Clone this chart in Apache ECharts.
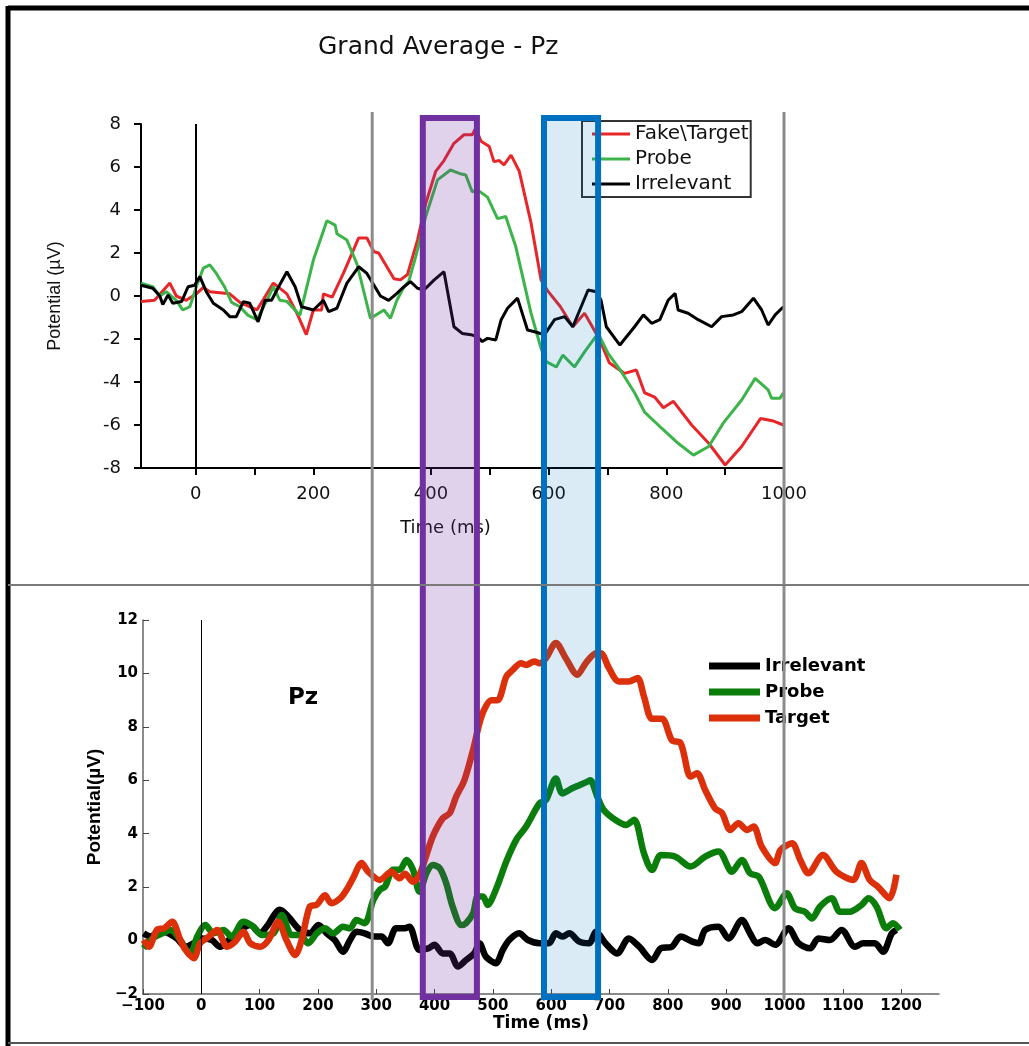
<!DOCTYPE html>
<html>
<head>
<meta charset="utf-8">
<script src="https://cdn.jsdelivr.net/npm/echarts@6/dist/echarts.min.js"></script>
<style>
  body { margin: 0; background: #fff; }
  #chart { width: 1029px; height: 1046px; }
</style>
</head>
<body>
<div id="chart"></div>
<script>
// top panel (Grand Average - Pz), [time ms, potential uV]
const topTarget = [[-93,-0.26],[-70,-0.2],[-44,0.6],[-33,0],[-16,-0.2],[1,0.1],[13,0.4],[24,0.2],[58,0.1],[75,-0.3],[104,-0.65],[132,0.6],[155,0.1],[172,-0.8],[188,-1.8],[200,-0.65],[214,-0.65],[217,0.1],[232,-0.05],[251,1.05],[277,2.7],[291,2.7],[303,2.06],[311,2.0],[337,0.8],[348,0.75],[360,1.0],[377,2.6],[391,4.3],[408,5.8],[422,6.3],[439,7.1],[456,7.5],[470,7.5],[476,7.8],[485,7.2],[499,6.95],[507,6.25],[516,6.3],[524,6.1],[536,6.55],[550,5.8],[570,3.4],[587,0.75],[598,0.25],[620,-0.5],[641,-1.43],[661,-0.8],[687,-2.05],[703,-3.1],[729,-3.6],[749,-3.44],[763,-4.5],[780,-4.7],[795,-5.2],[812,-4.9],[843,-6.0],[872,-6.85],[900,-7.86],[928,-7.0],[960,-5.7],[980,-5.8],[999,-6.0]];
const topProbe = [[-93,0.6],[-73,0.43],[-61,0],[-50,0.2],[-33,-0.2],[-22,-0.65],[-10,-0.5],[1,0.43],[13,1.3],[24,1.45],[35,1.05],[49,0.43],[61,-0.3],[75,-0.5],[89,-0.9],[104,-1.1],[121,-0.2],[132,0.43],[143,-0.2],[155,-0.25],[177,-0.9],[200,1.67],[223,3.5],[237,3.3],[240,2.9],[257,2.6],[274,1.5],[297,-1.04],[320,-0.65],[331,-1.04],[342,-0.2],[354,0.43],[362,0.67],[374,1.83],[391,3.7],[411,5.4],[433,5.86],[448,5.7],[459,5.63],[470,4.85],[479,4.93],[496,4.6],[513,3.6],[527,3.7],[544,2.3],[570,-0.8],[587,-2.43],[596,-3.05],[613,-3.3],[624,-2.75],[644,-3.3],[661,-2.6],[684,-1.74],[701,-2.67],[723,-3.5],[746,-4.5],[763,-5.4],[792,-6.15],[820,-6.85],[846,-7.4],[872,-7.0],[897,-5.9],[928,-4.84],[951,-3.83],[973,-4.37],[979,-4.76],[993,-4.76],[999,-4.5]];
const topIrrelevant = [[-93,0.5],[-73,0.36],[-61,0],[-56,-0.4],[-47,0.05],[-39,-0.34],[-24,-0.26],[-13,0.43],[-2,0.5],[7,0.9],[18,0.2],[30,-0.34],[47,-0.65],[58,-0.96],[69,-0.96],[81,-0.26],[92,-0.34],[106,-1.2],[118,-0.2],[129,-0.2],[138,0.28],[155,1.13],[169,0.43],[180,-0.5],[200,-0.65],[217,-0.2],[226,-0.73],[240,-0.57],[257,0.6],[277,1.36],[291,1.05],[314,0],[328,-0.2],[342,0.12],[351,0.36],[365,0.67],[377,0.36],[388,0.28],[405,0.74],[422,1.13],[439,-1.43],[453,-1.74],[468,-1.8],[479,-1.9],[487,-2.12],[496,-1.97],[510,-2.05],[519,-1.12],[530,-0.57],[547,-0.1],[564,-1.58],[576,-1.66],[593,-1.8],[610,-1.1],[627,-0.96],[641,-1.43],[667,0.28],[681,0.2],[689,-0.2],[698,-1.43],[721,-2.28],[746,-1.43],[761,-0.88],[775,-1.27],[789,-1.1],[803,-0.2],[815,0.12],[820,-0.65],[837,-0.8],[854,-1.1],[877,-1.43],[894,-0.96],[914,-0.88],[928,-0.73],[948,-0.1],[962,-0.65],[973,-1.35],[985,-0.88],[999,-0.5]];

// bottom panel (Pz), [time ms, potential uV]
const botTarget = [[-99,0.02],[-90,-0.23],[-76,0.4],[-64,0.46],[-50,0.7],[-36,0.02],[-27,-0.35],[-13,-0.66],[-2,-0.1],[13,0.15],[27,0.4],[44,-0.23],[58,-0.04],[72,0.33],[84,-0.1],[101,-0.23],[115,0.02],[132,0.7],[146,0.02],[161,-0.54],[172,0.02],[186,1.27],[198,1.34],[212,1.7],[223,1.4],[238,1.58],[249,1.9],[260,2.33],[275,2.9],[286,2.58],[306,2.27],[326,2.58],[340,2.33],[349,2.5],[363,2.2],[374,2.46],[383,3.0],[397,3.9],[414,4.58],[426,4.77],[437,5.39],[451,6.0],[466,7.14],[477,8.14],[485,8.64],[497,9.0],[508,9.0],[523,9.88],[534,10.13],[548,10.38],[557,10.32],[571,10.45],[580,10.38],[591,10.57],[608,11.14],[625,10.57],[645,9.95],[659,10.38],[677,10.76],[685,10.76],[699,10.2],[716,9.7],[733,9.7],[748,9.83],[759,9.14],[773,8.3],[790,8.3],[807,7.5],[822,7.39],[839,6.14],[850,6.26],[864,5.64],[881,4.95],[893,4.77],[907,4.14],[921,4.39],[936,4.14],[947,4.27],[961,3.52],[984,2.9],[993,3.39],[1013,3.64],[1027,3.02],[1041,2.52],[1066,3.2],[1089,2.58],[1118,2.27],[1132,2.9],[1146,2.27],[1160,2.02],[1180,1.58],[1192,2.46]];
const botProbe = [[-99,-0.29],[-84,0.08],[-67,0.27],[-53,0.4],[-36,0.02],[-19,-0.54],[-7,0.15],[7,0.58],[21,0.27],[38,0.4],[52,0.15],[72,0.7],[89,0.52],[104,0.21],[124,0.27],[138,0.96],[155,0.21],[169,0.21],[183,-0.1],[198,0.27],[212,0.46],[226,0.27],[243,0.52],[255,0.46],[266,0.77],[280,0.65],[295,1.52],[306,1.9],[315,2.02],[329,2.65],[340,2.65],[352,3.02],[363,2.65],[374,1.83],[386,2.52],[397,2.83],[409,2.7],[420,2.14],[431,1.27],[446,0.58],[454,0.65],[466,1.02],[474,1.65],[483,1.65],[491,1.33],[505,1.9],[523,2.96],[540,3.77],[557,4.27],[580,5.14],[591,5.26],[608,6.07],[619,5.51],[636,5.7],[662,5.95],[667,6.0],[679,5.39],[690,4.89],[710,4.52],[728,4.33],[742,4.52],[759,3.27],[773,2.64],[788,3.2],[813,3.14],[839,2.77],[864,3.14],[887,3.33],[910,2.58],[927,3.02],[941,2.52],[956,2.39],[984,1.21],[1004,1.77],[1018,1.21],[1035,1.08],[1047,0.83],[1061,1.27],[1081,1.58],[1095,1.08],[1112,1.08],[1132,1.33],[1144,1.58],[1158,1.27],[1175,0.46],[1186,0.65],[1198,0.4]];
const botIrrelevant = [[-99,0.27],[-87,0.15],[-70,0.4],[-56,0.27],[-42,0.08],[-27,-0.23],[-13,-0.1],[1,0.08],[18,0.02],[32,-0.23],[50,0.08],[67,0.4],[84,0.58],[101,0.27],[112,0.52],[135,1.15],[149,0.9],[169,0.4],[186,0.27],[201,0.58],[215,0.27],[229,0.02],[243,-0.42],[255,0.02],[266,0.33],[280,0.27],[295,0.15],[309,0.15],[320,-0.1],[334,0.46],[349,0.46],[357,0.52],[374,-0.35],[389,-0.29],[400,-0.16],[414,-0.48],[426,-0.48],[440,-0.97],[454,-0.73],[468,-0.48],[477,-0.1],[488,-0.6],[505,-0.85],[517,-0.35],[528,0.02],[545,0.27],[560,0.02],[580,-0.1],[596,-0.1],[608,0.27],[619,0.15],[631,0.27],[648,-0.04],[665,-0.1],[677,0.33],[693,-0.1],[713,-0.48],[733,0.08],[751,-0.23],[773,-0.73],[788,-0.29],[807,-0.23],[822,0.15],[842,-0.04],[853,-0.1],[864,0.4],[887,0.52],[904,0.08],[927,0.77],[941,0.27],[953,-0.1],[967,0.02],[984,-0.16],[1007,0.46],[1024,-0.1],[1044,-0.29],[1058,0.08],[1078,0.02],[1098,0.4],[1121,-0.23],[1135,-0.1],[1155,-0.1],[1169,-0.42],[1184,0.27],[1192,0.4]];

// tick labels
const topTicks = [0,100,200,300,400,500,600,700,800,900,1000];
const topLabels = [0,200,400,600,800,1000];
const botTicks = [-100,0,100,200,300,400,500,600,700,800,900,1000,1100,1200];

// highlighted windows (ms) and marker lines (ms)
const windows = [[386,478,"#7030a0","rgba(112,48,160,0.22)"],[592,684,"#0070c0","rgba(0,112,192,0.14)"]];
const markerTimes = [300,1000];

var chart = echarts.init(document.getElementById("chart"), null, { renderer: "canvas" });

var sans = "'DejaVu Sans', 'Open Sans', sans-serif";
var heavy = "'DejaVu Sans', sans-serif";
var narrow = "'Liberation Sans Narrow', 'Liberation Sans', sans-serif";

function hyphenNum(v) {
  return String(v);
}

function minusNum(v) {
  return v < 0 ? "\u2212" + (-v) : String(v);
}

function thinLine(name, data, color) {
  return {
    name: name, type: "line", xAxisIndex: 0, yAxisIndex: 0,
    data: data, showSymbol: false, symbol: "none", smooth: false,
    lineStyle: { color: color, width: 3 }, itemStyle: { color: color }
  };
}

function thickLine(name, data, color) {
  return {
    name: name, type: "line", xAxisIndex: 1, yAxisIndex: 1,
    data: data, showSymbol: false, symbol: "none", smooth: 0.3,
    lineStyle: { color: color, width: 6.5 }, itemStyle: { color: color }
  };
}

var option = {
  animation: false,
  backgroundColor: "#fff",
  title: [
    { text: "Grand Average - Pz", left: 313, top: 30,
      textStyle: { fontFamily: sans, fontWeight: "normal", fontSize: 25, color: "#111" } },
    { text: "Pz", left: 283, top: 682,
      textStyle: { fontFamily: heavy, fontWeight: "bold", fontSize: 23, color: "#000" } }
  ],
  grid: [
    { left: 141, top: 124, width: 643, height: 344 },
    { left: 143, top: 620, width: 796, height: 374 }
  ],
  legend: [
    {
      data: ["Fake\\Target", "Probe", "Irrelevant"],
      orient: "vertical", left: 582, top: 121,
      icon: "rect", itemWidth: 38, itemHeight: 3, itemGap: 5,
      padding: [3, 2, 3, 10],
      borderColor: "#333", borderWidth: 2,
      textStyle: { fontFamily: sans, fontSize: 20, color: "#111" }
    },
    {
      data: ["Irrelevant ", "Probe ", "Target"],
      orient: "vertical", left: 704, top: 652,
      icon: "rect", itemWidth: 51, itemHeight: 7, itemGap: 8,
      textStyle: { fontFamily: heavy, fontWeight: "bold", fontSize: 18, color: "#000" }
    }
  ],
  xAxis: [
    {
      gridIndex: 0, type: "value", min: -93, max: 1000,
      axisLine: { onZero: false, lineStyle: { color: "#000", width: 2 } },
      axisTick: { customValues: topTicks, length: 7, lineStyle: { color: "#000", width: 2 } },
      axisLabel: { customValues: topLabels, formatter: hyphenNum, fontFamily: sans, fontSize: 18, color: "#111", margin: 17 },
      splitLine: { show: false },
      name: "Time (ms)", nameLocation: "middle", nameGap: 51,
      nameTextStyle: { fontFamily: sans, fontSize: 18, color: "#111", padding: [0, 34, 0, 0] }
    },
    {
      gridIndex: 1, type: "value", min: -100, max: 1265,
      axisLine: { onZero: false, lineStyle: { color: "#666", width: 1.5 } },
      axisTick: { customValues: botTicks, inside: true, length: 5, lineStyle: { color: "#444" } },
      axisLabel: { customValues: botTicks, formatter: minusNum, fontFamily: heavy, fontWeight: "bold", fontSize: 15, color: "#000", margin: 5 },
      splitLine: { show: false },
      name: "Time (ms)", nameLocation: "middle", nameGap: 17,
      nameTextStyle: { fontFamily: heavy, fontWeight: "bold", fontSize: 17, color: "#000" }
    }
  ],
  yAxis: [
    {
      gridIndex: 0, type: "value", min: -8, max: 8, interval: 2,
      axisLine: { show: true, onZero: false, lineStyle: { color: "#000", width: 2 } },
      axisTick: { show: true, length: 7, lineStyle: { color: "#000", width: 2 } },
      axisLabel: { formatter: hyphenNum, fontFamily: sans, fontSize: 18, color: "#111", margin: 20 },
      splitLine: { show: false },
      name: "Potential (\u00b5V)", nameLocation: "middle", nameGap: 77,
      nameTextStyle: { fontFamily: narrow, fontSize: 18, color: "#111" }
    },
    {
      gridIndex: 1, type: "value", min: -2, max: 12, interval: 2,
      axisLine: { show: true, onZero: false, lineStyle: { color: "#666", width: 1.5 } },
      axisTick: { show: true, inside: true, length: 6, lineStyle: { color: "#444" } },
      axisLabel: { formatter: minusNum, fontFamily: heavy, fontWeight: "bold", fontSize: 15, color: "#000", margin: 5 },
      splitLine: { show: false },
      name: "Potential(\u00b5V)", nameLocation: "middle", nameGap: 32,
      nameTextStyle: { fontFamily: narrow, fontWeight: "bold", fontSize: 19, color: "#000" }
    }
  ],
  series: [
    Object.assign(thinLine("Fake\\Target", topTarget, "#e8262a"), {
      markLine: {
        silent: true, symbol: "none", label: { show: false },
        data: [
          { xAxis: 0, lineStyle: { color: "#000", width: 2, type: "solid" } },
          { xAxis: 1000, lineStyle: { color: "#222", width: 2, type: [7, 4] } }
        ]
      }
    }),
    thinLine("Probe", topProbe, "#3cb44a"),
    thinLine("Irrelevant", topIrrelevant, "#000"),
    Object.assign(thickLine("Irrelevant ", botIrrelevant, "#000"), {
      markLine: {
        silent: true, symbol: "none", label: { show: false },
        data: [{ xAxis: 0, lineStyle: { color: "#000", width: 1, type: "solid" } }]
      }
    }),
    thickLine("Probe ", botProbe, "#0a7d0a"),
    thickLine("Target", botTarget, "#db3009")
  ]
};

chart.setOption(option);

function drawOverlay() {
  let yTop = chart.convertToPixel({ yAxisIndex: 0 }, 8);
  let yBottom = chart.convertToPixel({ yAxisIndex: 1 }, -2);
  let shapes = [
    // page frame and panel separator
    { type: "line", z: 120, shape: { x1: 8, y1: 8, x2: 1029, y2: 8 }, style: { stroke: "#000", lineWidth: 5 } },
    { type: "line", z: 120, shape: { x1: 8, y1: 6, x2: 8, y2: 1046 }, style: { stroke: "#000", lineWidth: 5 } },
    { type: "line", z: 120, shape: { x1: 8, y1: 1043, x2: 1029, y2: 1043 }, style: { stroke: "#555", lineWidth: 2 } },
    { type: "line", z: 120, shape: { x1: 8, y1: 585, x2: 1029, y2: 585 }, style: { stroke: "#7a7a7a", lineWidth: 2 } }
  ];
  markerTimes.forEach(function (t) {
    let x = chart.convertToPixel({ xAxisIndex: 0 }, t);
    shapes.push({
      type: "line", z: 110,
      shape: { x1: x, y1: yTop - 12, x2: x, y2: yBottom + 6 },
      style: { stroke: "#8c8c8c", lineWidth: 3 }
    });
  });
  windows.forEach(function (w) {
    let x1 = chart.convertToPixel({ xAxisIndex: 0 }, w[0]);
    let x2 = chart.convertToPixel({ xAxisIndex: 0 }, w[1]);
    shapes.push({
      type: "rect", z: 115,
      shape: { x: x1, y: yTop - 6, width: x2 - x1, height: yBottom + 3 - (yTop - 6) },
      style: { fill: w[3], stroke: w[2], lineWidth: 6 }
    });
  });
  chart.setOption({ graphic: shapes });
}

drawOverlay();
</script>
</body>
</html>
